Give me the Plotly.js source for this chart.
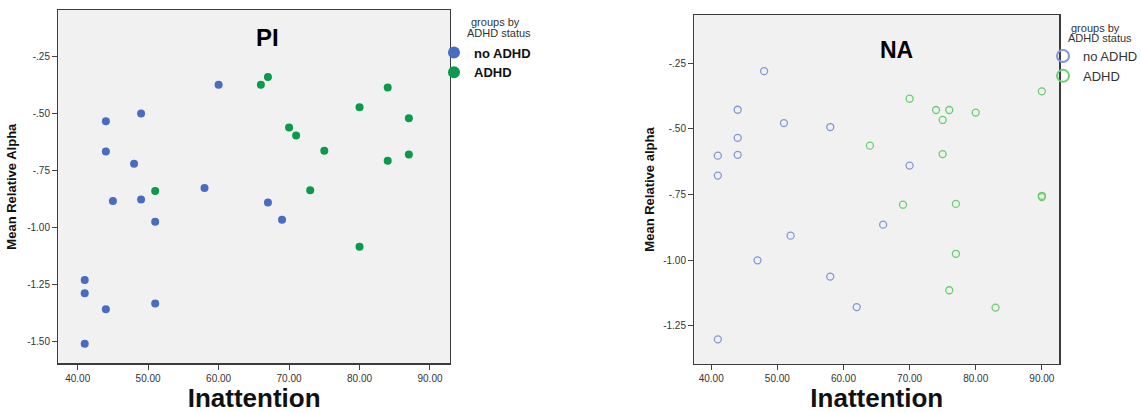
<!DOCTYPE html>
<html>
<head>
<meta charset="utf-8">
<script src="https://cdn.plot.ly/plotly-3.0.1.min.js"></script>
<style>html,body{margin:0;padding:0;background:#fff;}#chart{width:1141px;height:413px;}</style>
</head>
<body>
<div id="chart"></div>
<script>
// ---- data: PI panel ----
const piNoAdhdX = [41, 41, 41, 44, 44, 44, 45, 48, 49, 49, 51, 51, 58, 60, 67, 69];
const piNoAdhdY = [-1.232, -1.29, -1.512, -0.534, -0.667, -1.36, -0.885, -0.721, -0.50, -0.878, -0.976, -1.335, -0.827, -0.374, -0.891, -0.967];
const piAdhdX = [51, 66, 67, 70, 71, 73, 75, 80, 80, 84, 84, 87, 87];
const piAdhdY = [-0.841, -0.374, -0.34, -0.562, -0.597, -0.837, -0.664, -0.472, -1.086, -0.386, -0.708, -0.521, -0.68];

// ---- data: NA panel ----
const naNoAdhdX = [41, 41, 41, 44, 44, 44, 47, 48, 51, 52, 58, 58, 62, 66, 70];
const naNoAdhdY = [-0.602, -0.678, -1.302, -0.427, -0.534, -0.599, -1.001, -0.280, -0.478, -0.907, -0.493, -1.063, -1.179, -0.865, -0.640];
const naAdhdX = [64, 69, 70, 74, 75, 75, 76, 76, 77, 77, 80, 83, 90, 90, 90];
const naAdhdY = [-0.564, -0.789, -0.385, -0.428, -0.466, -0.596, -0.428, -1.115, -0.786, -0.976, -0.438, -1.181, -0.357, -0.755, -0.760];

// ---- ticks / labels ----
const xTickVals = [40, 50, 60, 70, 80, 90];
const xTickText = ['40.00', '50.00', '60.00', '70.00', '80.00', '90.00'];
const piYTickVals = [-0.25, -0.5, -0.75, -1.0, -1.25, -1.5];
const piYTickText = ['-.25', '-.50', '-.75', '-1.00', '-1.25', '-1.50'];
const naYTickVals = [-0.25, -0.5, -0.75, -1.0, -1.25];
const naYTickText = ['-.25', '-.50', '-.75', '-1.00', '-1.25'];
const groupNames = ['no ADHD', 'ADHD'];
const legendTitleLines = ['groups by', 'ADHD status'];

const FONT = 'Liberation Sans, Arial, sans-serif';
const W = 1141, H = 413;
const BLUE = '#4a6bc2', GREEN = '#0a9a4b';
const BLUE_O = '#8497d4', GREEN_O = '#6ccd70';

const traces = [
  {type: 'scatter', mode: 'markers', x: piNoAdhdX, y: piNoAdhdY, xaxis: 'x', yaxis: 'y',
   name: groupNames[0], legend: 'legend', marker: {color: BLUE, size: 8}, hoverinfo: 'x+y'},
  {type: 'scatter', mode: 'markers', x: piAdhdX, y: piAdhdY, xaxis: 'x', yaxis: 'y',
   name: groupNames[1], legend: 'legend', marker: {color: GREEN, size: 8}, hoverinfo: 'x+y'},
  {type: 'scatter', mode: 'markers', x: naNoAdhdX, y: naNoAdhdY, xaxis: 'x2', yaxis: 'y2',
   name: groupNames[0], legend: 'legend2', marker: {symbol: 'circle-open', color: BLUE_O, size: 7, line: {width: 1.3}}, hoverinfo: 'x+y'},
  {type: 'scatter', mode: 'markers', x: naAdhdX, y: naAdhdY, xaxis: 'x2', yaxis: 'y2',
   name: groupNames[1], legend: 'legend2', marker: {symbol: 'circle-open', color: GREEN_O, size: 7, line: {width: 1.3}}, hoverinfo: 'x+y'}
];

function px(x) { return x / W; }
function py(y) { return 1 - y / H; }

const axisCommon = {
  showline: true, mirror: true, linecolor: '#3c3c3c', linewidth: 1.3,
  showgrid: false, zeroline: false, ticks: 'outside', ticklen: 5, tickcolor: '#444', tickwidth: 1,
  tickfont: {family: FONT, size: 10, color: '#333'}, automargin: false, fixedrange: true
};

function legendTitle(xc, yc, i) {
  return {text: legendTitleLines[i], xref: 'paper', yref: 'paper', x: px(xc), y: py(yc),
    xanchor: 'center', yanchor: 'middle', showarrow: false,
    font: {family: FONT, size: 11, color: '#333'}};
}

const layout = {
  width: W, height: H,
  margin: {l: 0, r: 0, t: 0, b: 0, autoexpand: false},
  paper_bgcolor: '#ffffff',
  plot_bgcolor: '#f1f1f1',
  font: {family: FONT, color: '#222'},
  showlegend: true,
  xaxis: Object.assign({}, axisCommon, {
    domain: [px(58.3), px(450)], range: [37.25, 92.84], anchor: 'y',
    tickvals: xTickVals, ticktext: xTickText,
    title: {text: 'Inattention', font: {family: FONT, size: 26, weight: 'bold', color: '#111'}, standoff: 8}
  }),
  yaxis: Object.assign({}, axisCommon, {
    domain: [py(363.3), py(10)], range: [-1.598, -0.045], anchor: 'x',
    tickvals: piYTickVals, ticktext: piYTickText,
    title: {text: 'Mean Relative Alpha', font: {family: FONT, size: 13, weight: 'bold', color: '#111'}, standoff: 7}
  }),
  xaxis2: Object.assign({}, axisCommon, {
    domain: [px(694.3), px(1059.3)], range: [37.44, 92.64], anchor: 'y2',
    tickvals: xTickVals, ticktext: xTickText,
    title: {text: 'Inattention', font: {family: FONT, size: 26, weight: 'bold', color: '#111'}, standoff: 8}
  }),
  yaxis2: Object.assign({}, axisCommon, {
    domain: [py(364), py(15)], range: [-1.396, -0.066], anchor: 'x2',
    tickvals: naYTickVals, ticktext: naYTickText,
    title: {text: 'Mean Relative alpha', font: {family: FONT, size: 13, weight: 'bold', color: '#111'}, standoff: 5}
  }),
  legend: {
    x: px(434), y: py(37.5), xanchor: 'left', yanchor: 'top',
    bgcolor: 'rgba(0,0,0,0)', borderwidth: 0, itemsizing: 'constant',
    font: {family: FONT, size: 13, weight: 'bold', color: '#111'},
    tracegroupgap: 0, itemclick: false, itemdoubleclick: false
  },
  legend2: {
    x: px(1043), y: py(41), xanchor: 'left', yanchor: 'top',
    bgcolor: 'rgba(0,0,0,0)', borderwidth: 0, itemsizing: 'constant',
    font: {family: FONT, size: 13, color: '#333'},
    tracegroupgap: 0, itemclick: false, itemdoubleclick: false
  },
  annotations: [
    {text: 'PI', xref: 'paper', yref: 'paper', x: px(267), y: py(37.7), xanchor: 'center', yanchor: 'middle',
     showarrow: false, font: {family: FONT, size: 24, weight: 'bold', color: '#000'}},
    {text: 'NA', xref: 'paper', yref: 'paper', x: px(896.7), y: py(50), xanchor: 'center', yanchor: 'middle',
     showarrow: false, font: {family: FONT, size: 23, weight: 'bold', color: '#000'}},
    legendTitle(495, 22, 0), legendTitle(499, 32.5, 1),
    legendTitle(1095, 27.5, 0), legendTitle(1099.5, 38, 1)
  ]
};

Plotly.newPlot('chart', traces, layout, {displayModeBar: false, staticPlot: true});
</script>
</body>
</html>
